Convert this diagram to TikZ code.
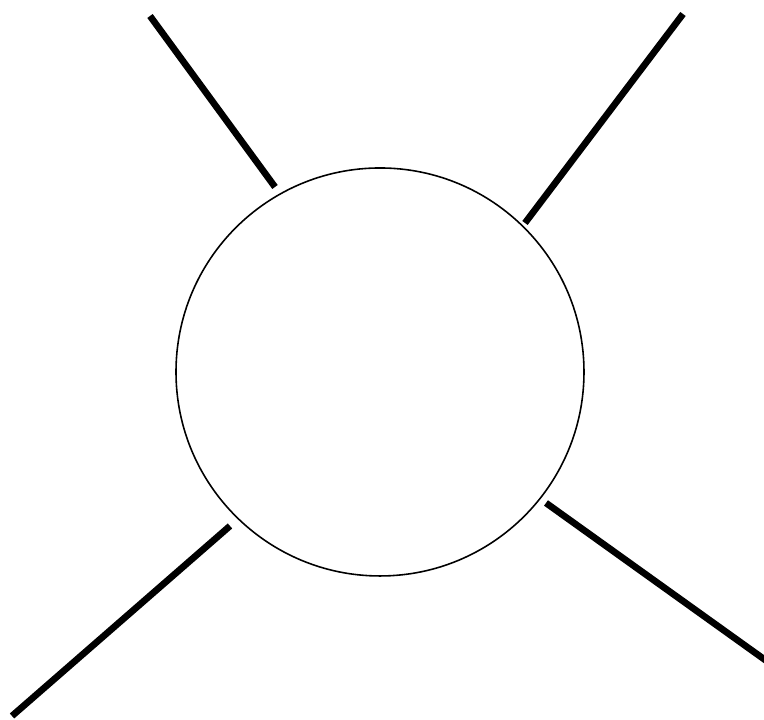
\documentclass[tikz,border=0pt]{standalone}
\tikzset{
  blob/.style={circle, draw, line width=0.45pt, minimum size=40.8mm, inner sep=0pt},
  leg/.style={line width=1.9pt, black}
}
\begin{document}
\begin{tikzpicture}
  \useasboundingbox (0,0) rectangle (7.64,7.2);
  \node[blob] (vertex) at (3.80,3.48) {};

  \coordinate (tlout) at (1.50,7.04);
  \coordinate (tlin) at (2.75,5.33);
  \coordinate (trout) at (6.83,7.06);
  \coordinate (trin) at (5.25,4.97);
  \coordinate (blout) at (0.12,0.04);
  \coordinate (blin) at (2.30,1.94);
  \coordinate (brout) at (7.68,0.58);
  \coordinate (brin) at (5.46,2.17);

  \draw[leg] (tlout) -- (tlin);
  \draw[leg] (trout) -- (trin);
  \draw[leg] (blout) -- (blin);
  \draw[leg] (brout) -- (brin);
\end{tikzpicture}
\end{document}
